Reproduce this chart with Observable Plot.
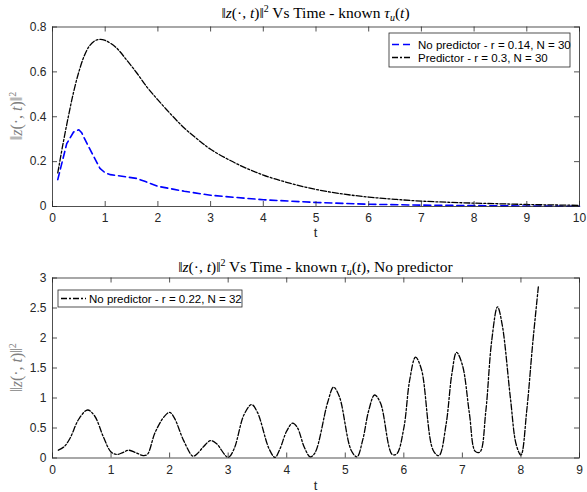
<!DOCTYPE html>
<html>
<head>
<meta charset="utf-8">
<script src="https://cdn.jsdelivr.net/npm/d3@7"></script>
<script src="https://cdn.jsdelivr.net/npm/@observablehq/plot@0.6"></script>
<style>
  html, body { margin: 0; padding: 0; background: #fff; }
  #chart { width: 587px; height: 492px; }
  #chart svg { display: block; }
</style>
</head>
<body>
<div id="chart"></div>
<script>
// ---- Top panel data ----
const topXTicks = [0,1,2,3,4,5,6,7,8,9,10];
const topYTicks = [0,0.2,0.4,0.6,0.8];
const noPredT = [0.1,0.27,0.4,0.5,0.55,0.7,0.9,1.0,1.1,1.4,1.6,1.75,2.0,2.5,3.0,3.5,4.0,4.5,5.0,5.5,6.0,7.0,8.0,9.0,10];
const noPredV = [0.12,0.28,0.332,0.342,0.33,0.26,0.17,0.15,0.142,0.132,0.125,0.112,0.09,0.068,0.05,0.04,0.03,0.024,0.018,0.014,0.01,0.006,0.004,0.002,0.001];
const predT = [0.1,0.2,0.3,0.4,0.5,0.6,0.7,0.8,0.9,1.0,1.2,1.4,1.6,1.8,2.0,2.25,2.5,2.75,3.0,3.5,4.0,4.5,5.0,5.5,6.0,6.5,7.0,7.5,8.0,8.5,9.0,9.5,10];
const predV = [0.15,0.28,0.40,0.51,0.60,0.67,0.715,0.738,0.745,0.74,0.71,0.655,0.595,0.53,0.475,0.41,0.35,0.30,0.255,0.19,0.14,0.104,0.076,0.056,0.042,0.032,0.024,0.019,0.015,0.012,0.009,0.007,0.005];
const topLegend = ["No predictor - r = 0.14, N = 30", "Predictor - r = 0.3, N = 30"];

// ---- Bottom panel data ----
const botXTicks = [0,1,2,3,4,5,6,7,8,9];
const botYTicks = [0,0.5,1,1.5,2,2.5,3];
const osciT = [0.1,0.2,0.3,0.45,0.6,0.72,0.87,1.0,1.1,1.2,1.3,1.42,1.55,1.62,1.75,1.9,2.0,2.08,2.24,2.4,2.48,2.58,2.7,2.8,3.0,3.1,3.27,3.4,3.5,3.7,3.8,3.88,4.0,4.1,4.18,4.3,4.4,4.48,4.7,4.8,4.9,5.1,5.2,5.3,5.4,5.5,5.6,5.8,5.88,6.0,6.1,6.2,6.3,6.5,6.6,6.72,6.82,6.9,7.0,7.12,7.22,7.3,7.4,7.5,7.6,7.68,7.82,7.92,8.0,8.1,8.2,8.3];
const osciV = [0.13,0.19,0.33,0.65,0.80,0.70,0.35,0.10,0.06,0.09,0.13,0.09,0.04,0.06,0.42,0.68,0.76,0.67,0.29,0.03,0.08,0.19,0.29,0.24,0.01,0.15,0.72,0.89,0.76,0.15,0.01,0.14,0.45,0.58,0.51,0.18,0.02,0.08,0.93,1.18,1.02,0.13,0.02,0.31,0.79,1.05,0.92,0.06,0.07,0.5,1.30,1.68,1.48,0.13,0.04,0.55,1.40,1.76,1.55,0.74,0.11,0.10,0.78,1.95,2.52,2.22,1.0,0.22,0.05,0.8,1.9,2.88];
const botLegend = ["No predictor - r = 0.22, N = 32"];

const topTitle = [{t:"‖"},{t:"z",i:1},{t:"(·, "},{t:"t",i:1},{t:")‖"},{t:"2",dy:-6,fs:10},{t:" Vs Time - known ",dy:6},{t:"τ",i:1},{t:"u",i:1,dy:3,fs:10},{t:"(",dy:-3},{t:"t",i:1},{t:")"}];
const botTitle = [{t:"‖"},{t:"z",i:1},{t:"(·, "},{t:"t",i:1},{t:")‖"},{t:"2",dy:-6,fs:10},{t:" Vs Time - known ",dy:6},{t:"τ",i:1},{t:"u",i:1,dy:3,fs:10},{t:"(",dy:-3},{t:"t",i:1},{t:"), No predictor"}];
const yLabel = [{t:"‖"},{t:"z",i:1},{t:"(·, "},{t:"t",i:1},{t:")‖"},{t:"2",dy:-6,fs:10}];

const AX = "#262626";
const SANS = "'Liberation Sans', Arial, Helvetica, sans-serif";
const DASH_DOT = "6,2,2,2";

function mathText(sel, x, y, parts, opts) {
  const t = sel.append("text").attr("x", x).attr("y", y)
    .attr("text-anchor", "middle").attr("font-family", "'Liberation Serif', serif")
    .attr("font-size", opts.size).attr("fill", opts.fill || "#000");
  if (opts.rotate) t.attr("transform", `rotate(-90,${x},${y})`);
  for (const p of parts) {
    const s = t.append("tspan").text(p.t);
    if (p.i) s.attr("font-style", "italic");
    if (p.dy) s.attr("dy", p.dy);
    if (p.fs) s.attr("font-size", p.fs);
  }
}

function legend(svg, box, rows) {
  const g = svg.append("g");
  g.append("rect").attr("x", box.x).attr("y", box.y).attr("width", box.w).attr("height", box.h)
    .attr("fill", "#fff").attr("stroke", AX).attr("stroke-width", 0.8);
  rows.forEach((r, i) => {
    const cy = box.y0 + i * box.dy;
    g.append("line").attr("x1", box.lx1).attr("x2", box.lx2).attr("y1", cy).attr("y2", cy)
      .attr("stroke", r.color).attr("stroke-width", r.width).attr("stroke-dasharray", r.dash);
    g.append("text").attr("x", box.tx).attr("y", cy).attr("dy", "0.35em")
      .attr("text-anchor", "start")
      .attr("font-family", SANS).attr("font-size", 11.5).attr("fill", "#000").text(r.label);
  });
}

function panel({width, height, mt, mb, ml, mr, xDomain, yDomain, xTicks, yTicks, lines}) {
  const iw = width - ml - mr, ih = height - mt - mb;
  return Plot.plot({
    width, height, marginTop: mt, marginBottom: mb, marginLeft: ml, marginRight: mr,
    x: {domain: xDomain}, y: {domain: yDomain},
    style: {fontFamily: SANS, fontSize: "12px", color: AX, background: "#fff", overflow: "visible"},
    marks: [
      ...lines,
      Plot.frame({stroke: AX, strokeWidth: 0.8}),
      Plot.tickX(xTicks, {x: d => d, insetTop: ih - 5, stroke: AX, strokeWidth: 0.8}),
      Plot.tickX(xTicks, {x: d => d, insetBottom: ih - 5, stroke: AX, strokeWidth: 0.8}),
      Plot.tickY(yTicks, {y: d => d, insetRight: iw - 5, stroke: AX, strokeWidth: 0.8}),
      Plot.tickY(yTicks, {y: d => d, insetLeft: iw - 5, stroke: AX, strokeWidth: 0.8}),
      Plot.axisX(xTicks, {tickSize: 0, tickPadding: 7, label: null, tickFormat: d => String(d), fill: AX}),
      Plot.axisY(yTicks, {tickSize: 0, tickPadding: 6, label: null, tickFormat: d => String(d), fill: AX})
    ]
  });
}

const chart = document.getElementById("chart");

// Top
const topP = panel({
  width: 587, height: 240, mt: 26.5, mb: 34, ml: 52, mr: 8,
  xDomain: [0, 10], yDomain: [0, 0.8], xTicks: topXTicks, yTicks: topYTicks,
  lines: [
    Plot.line(noPredT.map((t, i) => ({t, v: noPredV[i]})), {x: "t", y: "v", stroke: "#0000ff", strokeWidth: 1.6, strokeDasharray: "7,4"}),
    Plot.line(predT.map((t, i) => ({t, v: predV[i]})), {x: "t", y: "v", stroke: "#000", strokeWidth: 1.3, strokeDasharray: DASH_DOT, curve: "catmull-rom"})
  ]
});
chart.appendChild(topP);
{
  const s = d3.select(topP);
  mathText(s, 315.5, 18, topTitle, {size: 15.5});
  s.append("text").attr("x", 315.5).attr("y", 237).attr("text-anchor", "middle")
    .attr("font-family", SANS).attr("font-size", 13).attr("fill", AX).text("t");
  mathText(s, 22, 116, yLabel, {size: 16, fill: "#7f7f7f", rotate: true});
  legend(s, {x: 389, y: 33, w: 181, h: 34, y0: 44.5, dy: 13, lx1: 392, lx2: 412, tx: 418},
    [{label: topLegend[0], color: "#0000ff", width: 1.6, dash: "7,4"},
     {label: topLegend[1], color: "#000", width: 1.3, dash: DASH_DOT}]);
}

// Bottom
const botP = panel({
  width: 587, height: 252, mt: 37.5, mb: 34.5, ml: 52, mr: 8,
  xDomain: [0, 9], yDomain: [0, 3], xTicks: botXTicks, yTicks: botYTicks,
  lines: [
    Plot.line(osciT.map((t, i) => ({t, v: osciV[i]})), {x: "t", y: "v", stroke: "#000", strokeWidth: 1.3, strokeDasharray: DASH_DOT, curve: "catmull-rom"})
  ]
});
chart.appendChild(botP);
{
  const s = d3.select(botP);
  mathText(s, 315.5, 32, botTitle, {size: 15.5});
  s.append("text").attr("x", 315.5).attr("y", 250).attr("text-anchor", "middle")
    .attr("font-family", SANS).attr("font-size", 13).attr("fill", AX).text("t");
  mathText(s, 22, 127.5, yLabel, {size: 16, fill: "#7f7f7f", rotate: true});
  legend(s, {x: 58, y: 50, w: 184, h: 17, y0: 58.5, dy: 0, lx1: 61, lx2: 86, tx: 89},
    [{label: botLegend[0], color: "#000", width: 1.3, dash: DASH_DOT}]);
}
</script>
</body>
</html>
